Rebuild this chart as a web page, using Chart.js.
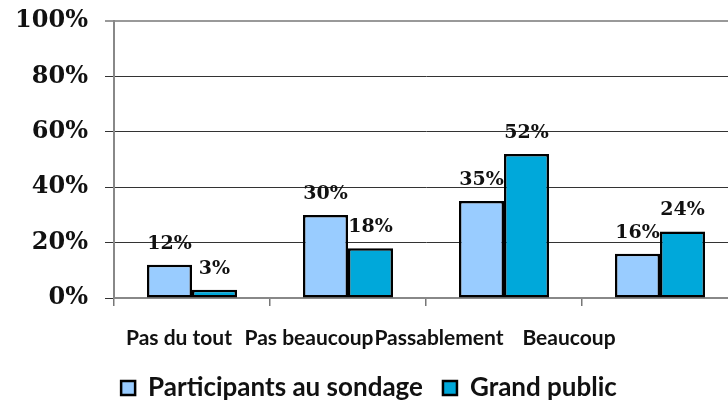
<!DOCTYPE html>
<html>
<head>
<meta charset="utf-8">
<script src="https://cdn.jsdelivr.net/npm/chart.js@4"></script>
<style>
  html, body { margin: 0; padding: 0; background: #fff; overflow: hidden; }
  #wrap { width: 740px; height: 407px; }
</style>
</head>
<body>
<div id="wrap"><canvas id="chart" width="740" height="407"></canvas></div>
<script>
// ======================
// Données du graphique
// ======================
const categories = ["Pas du tout", "Pas beaucoup", "Passablement", "Beaucoup"];
const participants = [12, 30, 35, 16];
const grandPublic = [3, 18, 52, 24];
const yTicks = [0, 20, 40, 60, 80, 100];

const serif = "'DejaVu Serif', 'Liberation Serif', serif";
const narrow = "Lato, 'Open Sans', sans-serif";

// étiquettes de valeur au-dessus des barres
const valueLabels = {
  id: "valueLabels",
  afterDatasetsDraw(chart) {
    const ctx = chart.ctx;
    ctx.save();
    ctx.font = "bold 19px " + serif;
    ctx.fillStyle = "#111";
    ctx.textAlign = "center";
    ctx.textBaseline = "middle";
    chart.data.datasets.forEach((ds, di) => {
      chart.getDatasetMeta(di).data.forEach((bar, i) => {
        ctx.fillText(ds.data[i] + "%", bar.x, bar.y - 21);
      });
    });
    ctx.restore();
  }
};

// libellés des catégories (décalés comme dans l'original)
const categoryLabels = {
  id: "categoryLabels",
  afterDraw(chart) {
    const x = chart.scales.x;
    const ctx = chart.ctx;
    const step = x.width / 4.8;
    ctx.save();
    ctx.font = "bold 21px " + narrow;
    ctx.fillStyle = "#111";
    ctx.textAlign = "center";
    ctx.textBaseline = "middle";
    categories.forEach((c, i) => {
      ctx.fillText(c, x.left + step * (i + 0.5), x.top + 40);
    });
    ctx.restore();
  }
};

new Chart(document.getElementById("chart"), {
  type: "bar",
  data: {
    labels: categories,
    datasets: [
      {
        label: "Participants au sondage",
        data: participants,
        backgroundColor: "#99CCFF",
        borderColor: "#000",
        borderWidth: 2.5,
        borderSkipped: false
      },
      {
        label: "Grand public",
        data: grandPublic,
        backgroundColor: "#00A8DA",
        borderColor: "#000",
        borderWidth: 2.5,
        borderSkipped: false
      }
    ]
  },
  options: {
    responsive: false,
    animation: false,
    layout: { padding: { top: 21, left: 0, right: 2, bottom: -4 } },
    datasets: { bar: { barPercentage: 1, categoryPercentage: 0.577 } },
    plugins: {
      tooltip: { enabled: false },
      legend: {
        position: "bottom",
        labels: {
          boxWidth: 14,
          boxHeight: 14,
          padding: 20,
          color: "#111",
          font: { family: narrow, size: 26, weight: "bold" }
        }
      }
    },
    scales: {
      x: {
        afterFit: s => { s.height = 57; },
        ticks: { display: false },
        grid: {
          offset: true,
          drawOnChartArea: false,
          drawTicks: true,
          tickLength: 8,
          color: "#777",
          lineWidth: 1.5
        },
        border: { color: "#888", width: 2 }
      },
      y: {
        min: 0,
        max: 100,
        afterFit: s => { s.width = 114; s.paddingTop = 0; s.paddingBottom = 0; },
        afterBuildTicks: s => { s.ticks = yTicks.map(v => ({ value: v })); },
        ticks: {
          padding: 17,
          color: "#111",
          font: { family: serif, size: 24, weight: "bold" },
          callback: v => v + "%"
        },
        grid: {
          tickLength: 9,
          color: ctx => (ctx.tick && ctx.tick.value === 100 ? "#999" : "#333"),
          lineWidth: ctx => (ctx.tick && ctx.tick.value === 100 ? 2 : 1)
        },
        border: { color: "#888", width: 2 }
      }
    }
  },
  plugins: [valueLabels, categoryLabels]
});
</script>
</body>
</html>
